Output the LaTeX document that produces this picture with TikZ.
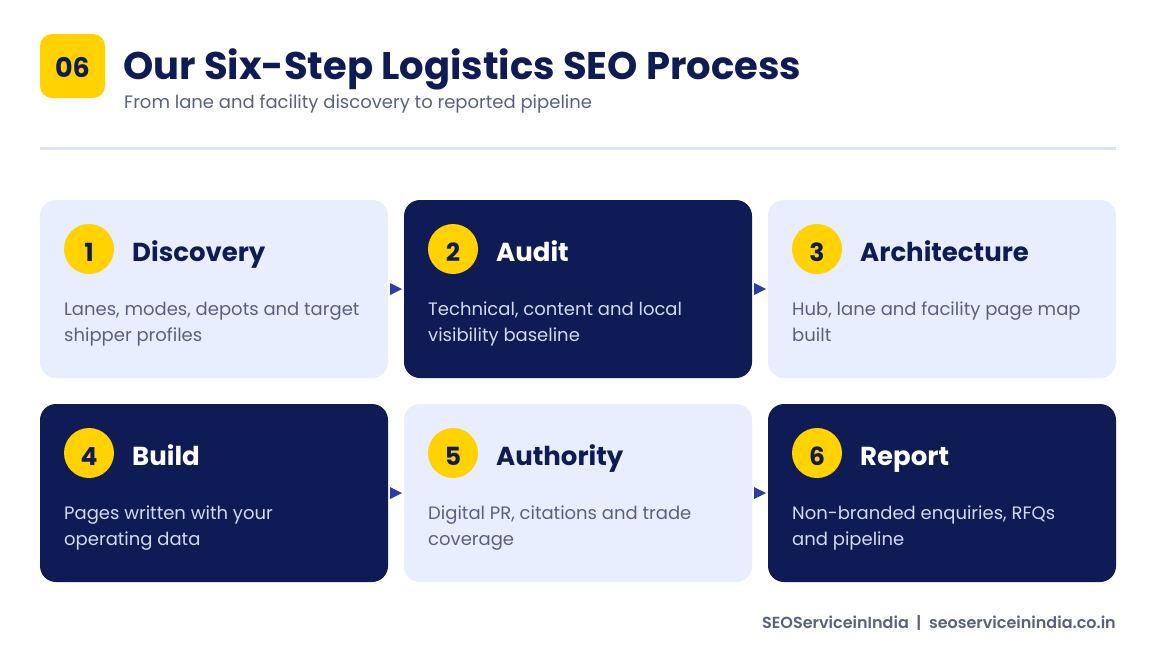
\documentclass[tikz,border=0pt]{standalone}
\usepackage{fontspec}
\setmainfont{Poppins}
\newfontfamily\popb{Poppins Bold}
\newfontfamily\pops{Poppins SemiBold}
\begin{document}
\definecolor{navy}{HTML}{0F1B54}
\definecolor{lightc}{HTML}{E8EEFD}
\definecolor{yel}{HTML}{FFD200}
\definecolor{grayt}{HTML}{5A6180}
\definecolor{lt}{HTML}{D3DAF2}
\definecolor{rule}{HTML}{DDE2F3}
\definecolor{arr}{HTML}{2B3BA8}
\begin{tikzpicture}[x=1pt,y=-1pt,
 card/.style={rounded corners=16pt},
 num/.style={circle,fill=yel,minimum size=50pt,inner sep=0},
 numt/.style={anchor=base,inner sep=0,text=navy,font=\popb\fontsize{25}{25}\selectfont},
 ttl/.style={anchor=base west,inner sep=0,font=\popb\fontsize{26}{28}\selectfont},
 body/.style={anchor=north west,inner sep=0,align=left,font=\fontsize{18}{26}\selectfont},
 tri/.style={fill=arr}]
\useasboundingbox[fill=white] (0,0) rectangle (1156,653);
\node[fill=yel,rounded corners=12pt,minimum width=65pt,minimum height=64pt,inner sep=0] (badge) at (72.5,66) {};
\node[anchor=base,inner sep=0,text=navy,font=\popb\fontsize{27}{27}\selectfont] (bt) at (72.5,77) {06};
\node[anchor=base west,inner sep=0,text=navy,font=\popb\fontsize{38.5}{40}\selectfont] (title) at (123,79) {Our Six-Step Logistics SEO Process};
\node[anchor=base west,inner sep=0,text=grayt,font=\fontsize{18}{20}\selectfont] (sub) at (124,108) {From lane and facility discovery to reported pipeline};
\draw[rule,line width=3pt] (40,148) -- (1116,148);
\foreach \i/\x/\y/\dark/\t/\la/\lb in {
 1/40/200/0/Discovery/{Lanes, modes, depots and target}/{shipper profiles},
 2/404/200/1/Audit/{Technical, content and local}/{visibility baseline},
 3/768/200/0/Architecture/{Hub, lane and facility page map}/{built},
 4/40/404/1/Build/{Pages written with your}/{operating data},
 5/404/404/0/Authority/{Digital PR, citations and trade}/{coverage},
 6/768/404/1/Report/{Non-branded enquiries, RFQs}/{and pipeline}}{
 \ifnum\dark=1 \def\bg{navy}\def\tc{white}\def\bc{lt}\else \def\bg{lightc}\def\tc{navy}\def\bc{grayt}\fi
 \fill[card,\bg] (\x,\y) rectangle +(348,178);
 \node[num] (n\i) at (\x+49,\y+49) {};
 \node[numt] (nt\i) at (\x+49,\y+61) {\i};
 \node[ttl,text=\tc] (t\i) at (\x+92,\y+61) {\t};
 \node[body,text=\bc] (b\i) at (\x+24,\y+102) {\la\\\lb};
}
\foreach \x/\y in {390/289,754/289,390/493,754/493}{
 \fill[tri] (\x,\y-6) -- (\x+12,\y) -- (\x,\y+6) -- cycle;}
\node[anchor=base east,inner sep=0,text=grayt,font=\pops\fontsize{16}{18}\selectfont] (foot) at (1116,628) {SEOServiceinIndia\ \ |\ \ seoserviceinindia.co.in};
\end{tikzpicture}
\end{document}
